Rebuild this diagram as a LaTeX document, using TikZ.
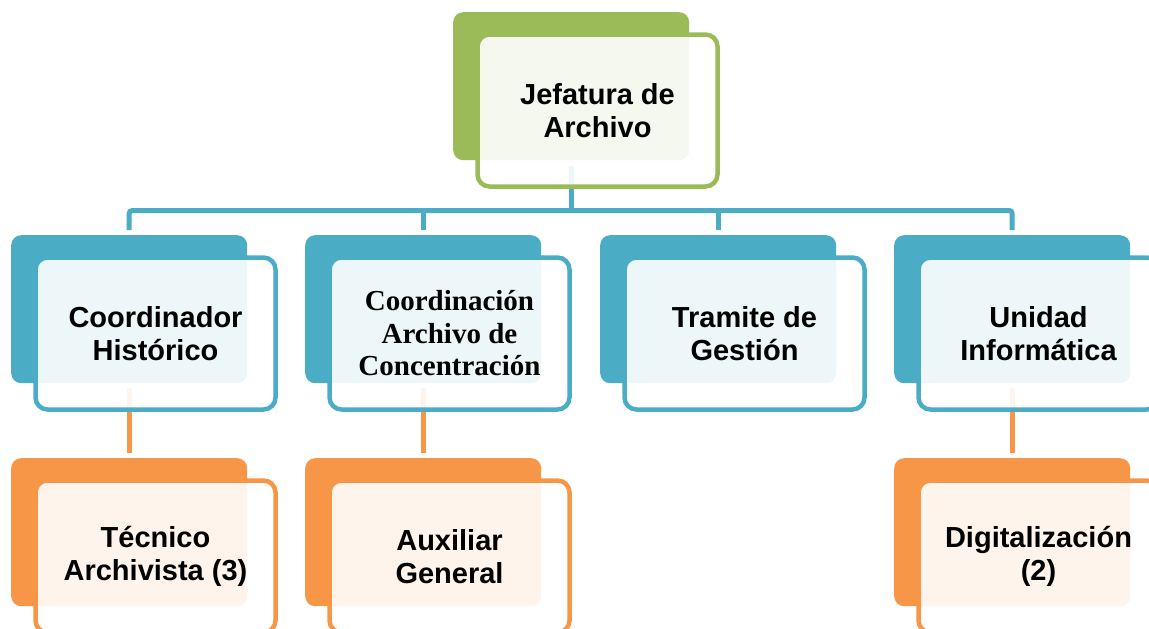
\documentclass[tikz,border=0pt]{standalone}
\usepackage{fontspec}
\setmainfont{Liberation Sans}
\newfontfamily\timesfont{Liberation Serif}
\usetikzlibrary{positioning,calc}
\definecolor{cblue}{HTML}{4BACC6}
\definecolor{corange}{HTML}{F79646}
\definecolor{cgreen}{HTML}{9BBB59}
\pgfdeclarelayer{background}
\pgfsetlayers{background,main}
\tikzset{
  backbox/.style={rectangle, rounded corners=10pt, fill=#1, draw=none,
    minimum width=236pt, minimum height=148pt, inner sep=0pt, anchor=north west},
  frontbox/.style={rectangle, rounded corners=12pt, draw=#1, line width=4.5pt,
    fill=white, fill opacity=0.9, text opacity=1,
    minimum width=240pt, minimum height=152pt, inner sep=0pt, align=center,
    font=\fontsize{29}{33}\selectfont\bfseries},
  con/.style={draw=#1, line width=5pt},
}
\begin{document}
\begin{tikzpicture}[x=1pt,y=-1pt]
\useasboundingbox (0,0) rectangle (1149,629);
\clip (0,0) rectangle (1149,629);
% top
\node[backbox=cgreen] (jb) at (453,12) {};
\node[frontbox=cgreen] (jf) at (453+144.5,12+98.5) {Jefatura de\\Archivo};
% level 1
\node[backbox=cblue] (h1b) at (11,235) {};
\node[frontbox=cblue] (h1f) at (11+144.5,235+98.5) {Coordinador\\Histórico};
\node[backbox=cblue] (h2b) at (305,235) {};
\node[frontbox=cblue, font=\timesfont\fontsize{29}{32.5}\selectfont\bfseries] (h2f) at (305+144.5,235+98.5) {Coordinación\\Archivo de\\Concentración};
\node[backbox=cblue] (h3b) at (600,235) {};
\node[frontbox=cblue] (h3f) at (600+144.5,235+98.5) {Tramite de\\Gestión};
\node[backbox=cblue] (h4b) at (894,235) {};
\node[frontbox=cblue] (h4f) at (894+144.5,235+98.5) {Unidad\\Informática};
% level 2
\node[backbox=corange] (t1b) at (11,458) {};
\node[frontbox=corange] (t1f) at (11+144.5,458+98.5) {Técnico\\Archivista (3)};
\node[backbox=corange] (t2b) at (305,458) {};
\node[frontbox=corange] (t2f) at (305+144.5,458+98.5) {Auxiliar\\General};
\node[backbox=corange] (t4b) at (894,458) {};
\node[frontbox=corange] (t4f) at (894+144.5,458+98.5) {Digitalización\\(2)};
\coordinate (bus) at (0,210.5);
\begin{pgfonlayer}{background}
\draw[con=cblue] ([yshift=-6pt]jb.south) -- (jb.south |- bus);
\draw[con=cblue, rounded corners=3pt] ([yshift=5pt]h1b.north) -- (h1b.north |- bus) -- (h4b.north |- bus) -- ([yshift=5pt]h4b.north);
\draw[con=cblue] (h2b.north |- bus) -- ([yshift=5pt]h2b.north);
\draw[con=cblue] (h3b.north |- bus) -- ([yshift=5pt]h3b.north);
\draw[con=corange] ([yshift=-5pt]h1b.south) -- ([yshift=5pt]t1b.north);
\draw[con=corange] ([yshift=-5pt]h2b.south) -- ([yshift=5pt]t2b.north);
\draw[con=corange] ([yshift=-5pt]h4b.south) -- ([yshift=5pt]t4b.north);
\end{pgfonlayer}
\end{tikzpicture}
\end{document}
